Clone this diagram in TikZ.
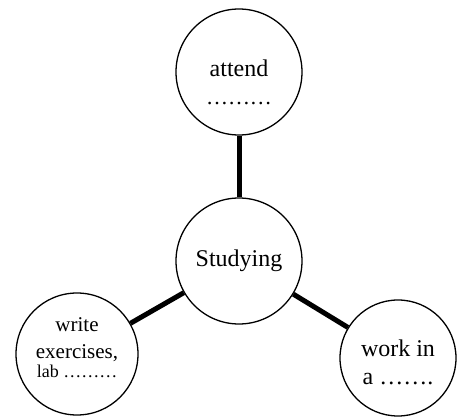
\documentclass[tikz,border=0pt]{standalone}
\usepackage{fontspec}
\setmainfont{Liberation Serif}
\tikzset{
  topic/.style={circle,draw,line width=1.3pt,inner sep=0pt,align=center,
    font=\fontsize{24}{28}\selectfont},
  every label/.style={align=center,inner sep=0pt,font=\fontsize{24}{28}\selectfont},
  spoke/.style={line width=5pt},
}

\begin{document}
\begin{tikzpicture}[x=1pt,y=-1pt]

		\useasboundingbox (0,0) rectangle (459,417);

		\node[topic,minimum size=126pt] (studying) at (239,261) {Studying};
		\node[topic,minimum size=126pt,
		  label={[yshift=-10pt]center:attend\\{\fontsize{22}{28}\selectfont ………}}] (attend) at (239,72) {};
		\node[topic,minimum size=122pt,
		  label={[yshift=6pt,font=\fontsize{21}{27}\selectfont]center:write\\exercises,\\[-8pt]{\fontsize{18}{22}\selectfont lab ………}}] (write) at (77,354) {};
		\node[topic,minimum size=116pt,
		  label={[yshift=-4pt]center:work in\\a …….}] (work) at (398,358) {};

		\draw[spoke] (studying) -- (attend);
		\draw[spoke] (studying) -- (write);
		\draw[spoke] (studying) -- (work);

\end{tikzpicture}
\end{document}
